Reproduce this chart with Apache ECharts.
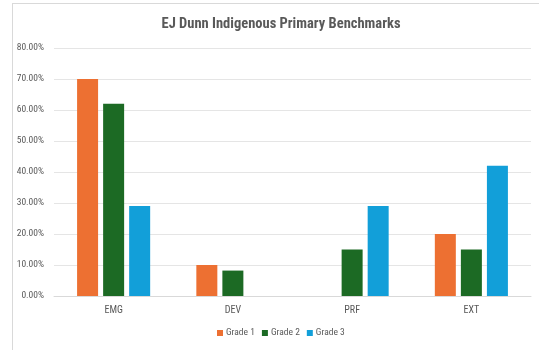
<!DOCTYPE html>
<html><head><meta charset="utf-8">
<script src="https://cdn.jsdelivr.net/npm/echarts@6/dist/echarts.min.js"></script>
<style>html,body{margin:0;padding:0;background:#fff}#c{width:539px;height:350px}
#frame{position:absolute;left:12px;top:3px;width:540px;height:360px;border:1px solid #d9d9d9;pointer-events:none}</style>
</head><body><div id="c"></div><div id="frame"></div>
<script>
var categories = ['EMG', 'DEV', 'PRF', 'EXT'];
var grade1 = [70, 10, null, 20];
var grade2 = [62, 8.2, 15, 15];
var grade3 = [29, null, 29, 42];
var yTicks = [0, 10, 20, 30, 40, 50, 60, 70, 80];
var FONT = '"Roboto Condensed", "DejaVu Sans Condensed", sans-serif';
var chart = echarts.init(document.getElementById('c'));
function s(name, data, color) {
  return { name: name, type: 'bar', data: data, barWidth: 21, barGap: '24%',
    itemStyle: { color: color }, emphasis: { disabled: true } };
}
chart.setOption({
  animation: false,
  title: { text: 'EJ Dunn Indigenous Primary Benchmarks', left: 276, textAlign: 'center', top: 12,
    textStyle: { fontFamily: FONT, fontSize: 14.5, fontWeight: 'bold', color: '#595959' } },
  legend: { bottom: 7, left: 212, itemWidth: 6, itemHeight: 6, itemGap: 7, icon: 'rect',
    textStyle: { fontFamily: FONT, fontSize: 9.5, color: '#595959', padding: [0, 0, 0, -2] },
    data: ['Grade 1', 'Grade 2', 'Grade 3'] },
  grid: { left: 54, right: 8, top: 48, bottom: 54, containLabel: false },
  xAxis: { type: 'category', data: categories,
    axisLine: { lineStyle: { color: '#d9d9d9' } }, axisTick: { show: false },
    axisLabel: { fontFamily: FONT, fontSize: 10, color: '#595959', margin: 9 } },
  yAxis: { type: 'value', min: 0, max: 80, interval: 10,
    axisLine: { show: false }, axisTick: { show: false },
    splitLine: { lineStyle: { color: '#e5e5e5' } },
    axisLabel: { fontFamily: FONT, fontSize: 9.5, color: '#595959', margin: 10,
      formatter: function (v) { return yTicks.indexOf(v) >= 0 ? v.toFixed(2) + '%' : ''; } } },
  series: [ s('Grade 1', grade1, '#ED7032'), s('Grade 2', grade2, '#1C6A24'), s('Grade 3', grade3, '#129FD9') ]
});
</script></body></html>
